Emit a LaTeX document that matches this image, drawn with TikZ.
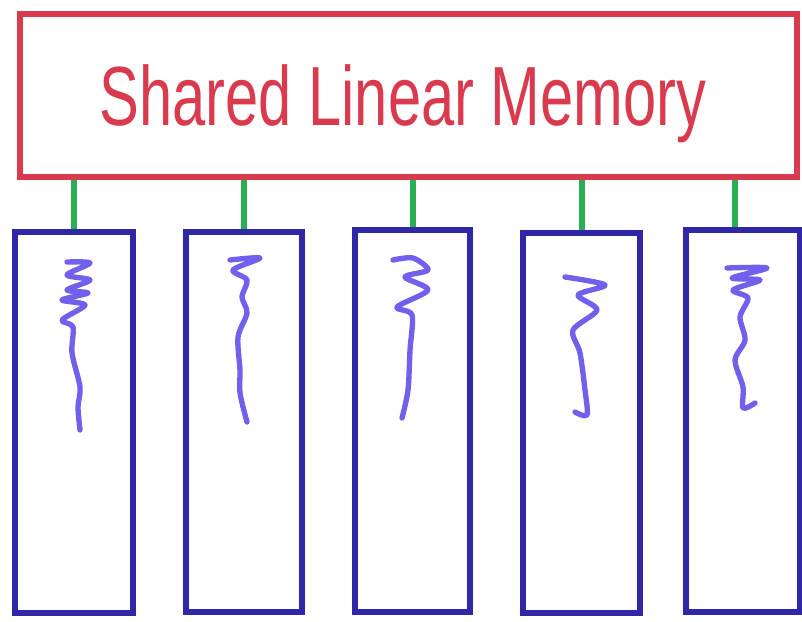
\documentclass[tikz,border=0pt]{standalone}
\usepackage{fontspec}
\setmainfont{Liberation Sans}
\usepackage{xcolor}
\usetikzlibrary{positioning, calc, fit}

\definecolor{memred}{RGB}{218,58,78}
\definecolor{modblue}{RGB}{48,38,168}
\definecolor{codeblue}{RGB}{112,96,236}
\definecolor{linkgreen}{RGB}{42,176,82}

\tikzset{
  membox/.style={draw=memred, line width=4.5pt, inner sep=0pt, fit=#1},
  modbox/.style={draw=modblue, line width=5pt, inner sep=0pt, fit=#1},
  link/.style={draw=linkgreen, line width=4.5pt},
  code/.style={draw=codeblue, line width=4pt, line cap=round, line join=round}
}

\begin{document}
\begin{tikzpicture}[x=0.75pt, y=-0.75pt]
\useasboundingbox (0,0) rectangle (802,621);

% shared memory
\coordinate (m1) at (20,14);
\coordinate (m2) at (797,177);
\node[membox={(m1)(m2)}] (mem) {};
\node[anchor=base, text=memred] (memlabel) at (403,125)
  {\scalebox{0.71}[1]{\fontsize{63}{70}\selectfont Shared Linear Memory}};

% modules
\coordinate (a1) at (15,232);  \coordinate (a2) at (133,613);
\coordinate (b1) at (186,232); \coordinate (b2) at (302,612);
\coordinate (c1) at (355,230); \coordinate (c2) at (470,612);
\coordinate (d1) at (523,233); \coordinate (d2) at (640,613);
\coordinate (e1) at (686,230); \coordinate (e2) at (800,612);
\node[modbox={(a1)(a2)}] (modA) {};
\node[modbox={(b1)(b2)}] (modB) {};
\node[modbox={(c1)(c2)}] (modC) {};
\node[modbox={(d1)(d2)}] (modD) {};
\node[modbox={(e1)(e2)}] (modE) {};

% links
\draw[link] (modA.north) -- (modA.north |- mem.south);
\draw[link] (modB.north) -- (modB.north |- mem.south);
\draw[link] (modC.north) -- (modC.north |- mem.south);
\draw[link] (modD.north) -- (modD.north |- mem.south);
\coordinate (eTop) at ($(modE.north)+(-8,0)$);
\draw[link] (eTop) -- (eTop |- mem.south);

% code scribbles
\draw[code] plot[smooth, tension=0.5] coordinates {(67,262) (90,263) (67,275) (90,280) (67,290) (88,293) (62,300) (85,305) (62,320) (73,327) (72,353) (80,387) (78,407) (80,430)};
\draw[code] plot[smooth, tension=0.5] coordinates {(230,260) (260,258) (233,270) (247,280) (242,297) (247,313) (238,337) (240,370) (240,393) (247,422)};
\draw[code] plot[smooth, tension=0.5] coordinates {(393,260) (413,258) (428,270) (405,277) (428,290) (397,307) (412,315) (410,350) (408,390) (402,418)};
\draw[code] plot[smooth, tension=0.5] coordinates {(565,277) (605,285) (578,295) (597,310) (573,330) (580,353) (585,390) (587,415) (575,412)};
\draw[code] plot[smooth, tension=0.5] coordinates {(727,268) (767,268) (732,278) (760,280) (733,290) (748,298) (740,317) (745,340) (735,360) (743,387) (743,408) (755,403)};
\end{tikzpicture}
\end{document}
